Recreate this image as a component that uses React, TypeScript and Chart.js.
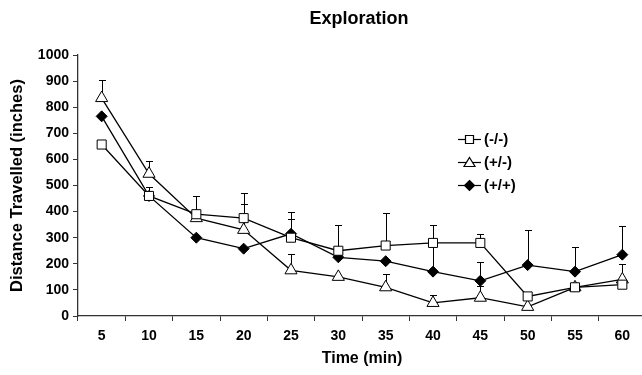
import React, { useEffect, useRef } from "react";
import { Chart, registerables } from "chart.js";

Chart.register(...registerables);

const timeLabels = ["5", "10", "15", "20", "25", "30", "35", "40", "45", "50", "55", "60"];
const koValues = [657, 460, 390, 375, 300, 250, 270, 280, 280, 75, 110, 120];
const koErr = [18, 34, 70, 95, 98, 100, 124, 68, 33, 15, 0, 0];
const hetValues = [835, 545, 375, 330, 175, 150, 110, 50, 70, 35, 110, 140];
const hetErr = [70, 50, 0, 99, 63, 0, 50, 30, 45, 0, 0, 60];
const wtValues = [765, 460, 300, 258, 315, 225, 210, 170, 135, 195, 170, 235];
const wtErr = [0, 0, 0, 0, 57, 0, 0, 178, 72, 135, 95, 110];
const seriesNames = ["(-/-)", "(+/-)", "(+/+)"];
const yTicks = [0, 100, 200, 300, 400, 500, 600, 700, 800, 900, 1000];

const FONT = "'Liberation Sans', Arial, sans-serif";

const errorBarPlugin = {
  id: "errorBars",
  beforeDatasetsDraw(chart: any) {
    const ctx = chart.ctx;
    const y = chart.scales.y;
    ctx.save();
    ctx.strokeStyle = "#000";
    ctx.lineWidth = 1;
    chart.data.datasets.forEach((ds: any, i: number) => {
      const meta = chart.getDatasetMeta(i);
      const errs = ds.errUp as number[];
      meta.data.forEach((pt: any, j: number) => {
        const e = errs[j];
        if (!e) return;
        const x = Math.round(pt.x) + 0.5;
        const yTop = Math.round(y.getPixelForValue(ds.data[j] + e)) + 0.5;
        ctx.beginPath();
        ctx.moveTo(x, pt.y);
        ctx.lineTo(x, yTop);
        ctx.moveTo(x - 3.5, yTop);
        ctx.lineTo(x + 3.5, yTop);
        ctx.stroke();
      });
    });
    ctx.restore();
  },
  afterDraw(chart: any) {
    const ctx = chart.ctx;
    ctx.save();
    // title
    ctx.fillStyle = "#000";
    ctx.font = `bold 18px ${FONT}`;
    ctx.textAlign = "center";
    ctx.textBaseline = "middle";
    ctx.fillText("Exploration", 359, 19);
    // legend
    const rows = [139, 162, 185];
    chart.data.datasets.forEach((ds: any, i: number) => {
      const yy = rows[i] + 0.5;
      ctx.strokeStyle = "#000";
      ctx.lineWidth = 1.2;
      ctx.beginPath();
      ctx.moveTo(458, yy);
      ctx.lineTo(481, yy);
      ctx.stroke();
      ctx.beginPath();
      if (ds.pointStyle === "rect") {
        ctx.rect(465.5, yy - 4, 8, 8);
      } else if (ds.pointStyle === "triangle") {
        ctx.moveTo(469.5, yy - 5);
        ctx.lineTo(475, yy + 4);
        ctx.lineTo(464, yy + 4);
        ctx.closePath();
      } else {
        ctx.moveTo(469.5, yy - 5);
        ctx.lineTo(474.5, yy);
        ctx.lineTo(469.5, yy + 5);
        ctx.lineTo(464.5, yy);
        ctx.closePath();
      }
      ctx.fillStyle = ds.pointBackgroundColor;
      ctx.fill();
      ctx.stroke();
      ctx.fillStyle = "#000";
      ctx.font = `bold 15px ${FONT}`;
      ctx.textAlign = "left";
      ctx.textBaseline = "middle";
      ctx.fillText(ds.label, 484, yy);
    });
    ctx.restore();
  },
};

export default function App() {
  const ref = useRef<HTMLCanvasElement | null>(null);
  useEffect(() => {
    if (!ref.current) return;
    const common = {
      borderColor: "#000",
      borderWidth: 1.3,
      pointBorderColor: "#000",
      pointBorderWidth: 1,
      tension: 0,
    };
    const chart = new Chart(ref.current, {
      type: "line",
      data: {
        labels: timeLabels,
        datasets: [
          { ...common, label: seriesNames[0], data: koValues, errUp: koErr, pointStyle: "rect", pointRadius: 6.4, pointBackgroundColor: "#fff" } as any,
          { ...common, label: seriesNames[1], data: hetValues, errUp: hetErr, pointStyle: "triangle", pointRadius: 7, pointBackgroundColor: "#fff" } as any,
          { ...common, label: seriesNames[2], data: wtValues, errUp: wtErr, pointStyle: "rectRot", pointRadius: 5.5, pointBackgroundColor: "#000" } as any,
        ],
      },
      options: {
        responsive: false,
        animation: false,
        layout: { padding: { top: 55, right: 0, bottom: 0, left: 0 } },
        plugins: { legend: { display: false }, title: { display: false }, tooltip: { enabled: false } },
        scales: {
          x: {
            type: "category",
            offset: true,
            grid: { display: true, drawOnChartArea: false, drawTicks: true, tickLength: 5, color: "#333", offset: true },
            border: { display: true, color: "#333", width: 1.3 },
            ticks: { color: "#000", font: { family: FONT, size: 14, weight: "bold" }, padding: 7, maxRotation: 0, autoSkip: false },
            title: { display: true, text: "Time (min)", color: "#000", font: { family: FONT, size: 16, weight: "bold" }, padding: { top: 4, bottom: 7 } },
            afterFit: (s: any) => { s.height = 59; },
          },
          y: {
            min: 0,
            max: 1000,
            afterBuildTicks: (s: any) => { s.ticks = yTicks.map((v) => ({ value: v })); },
            grid: { display: true, drawOnChartArea: false, drawTicks: true, tickLength: 5, color: "#333" },
            border: { display: true, color: "#333", width: 1.3 },
            ticks: { color: "#000", font: { family: FONT, size: 14, weight: "bold" }, padding: 4, callback: (v: any) => String(v) },
            title: { display: true, text: "Distance Travelled (inches)", color: "#000", font: { family: FONT, size: 16.5, weight: "bold" }, padding: { top: 8, bottom: 4 } },
            afterFit: (s: any) => { s.width = 78; },
          },
        },
      } as any,
      plugins: [errorBarPlugin],
    });
    return () => chart.destroy();
  }, []);
  return (
    <div style={{ position: "fixed", left: 0, top: 0, width: 642, height: 375, overflow: "hidden", background: "#fff" }}>
      <canvas ref={ref} width={654} height={375} style={{ width: 654, height: 375, display: "block" }} />
    </div>
  );
}
